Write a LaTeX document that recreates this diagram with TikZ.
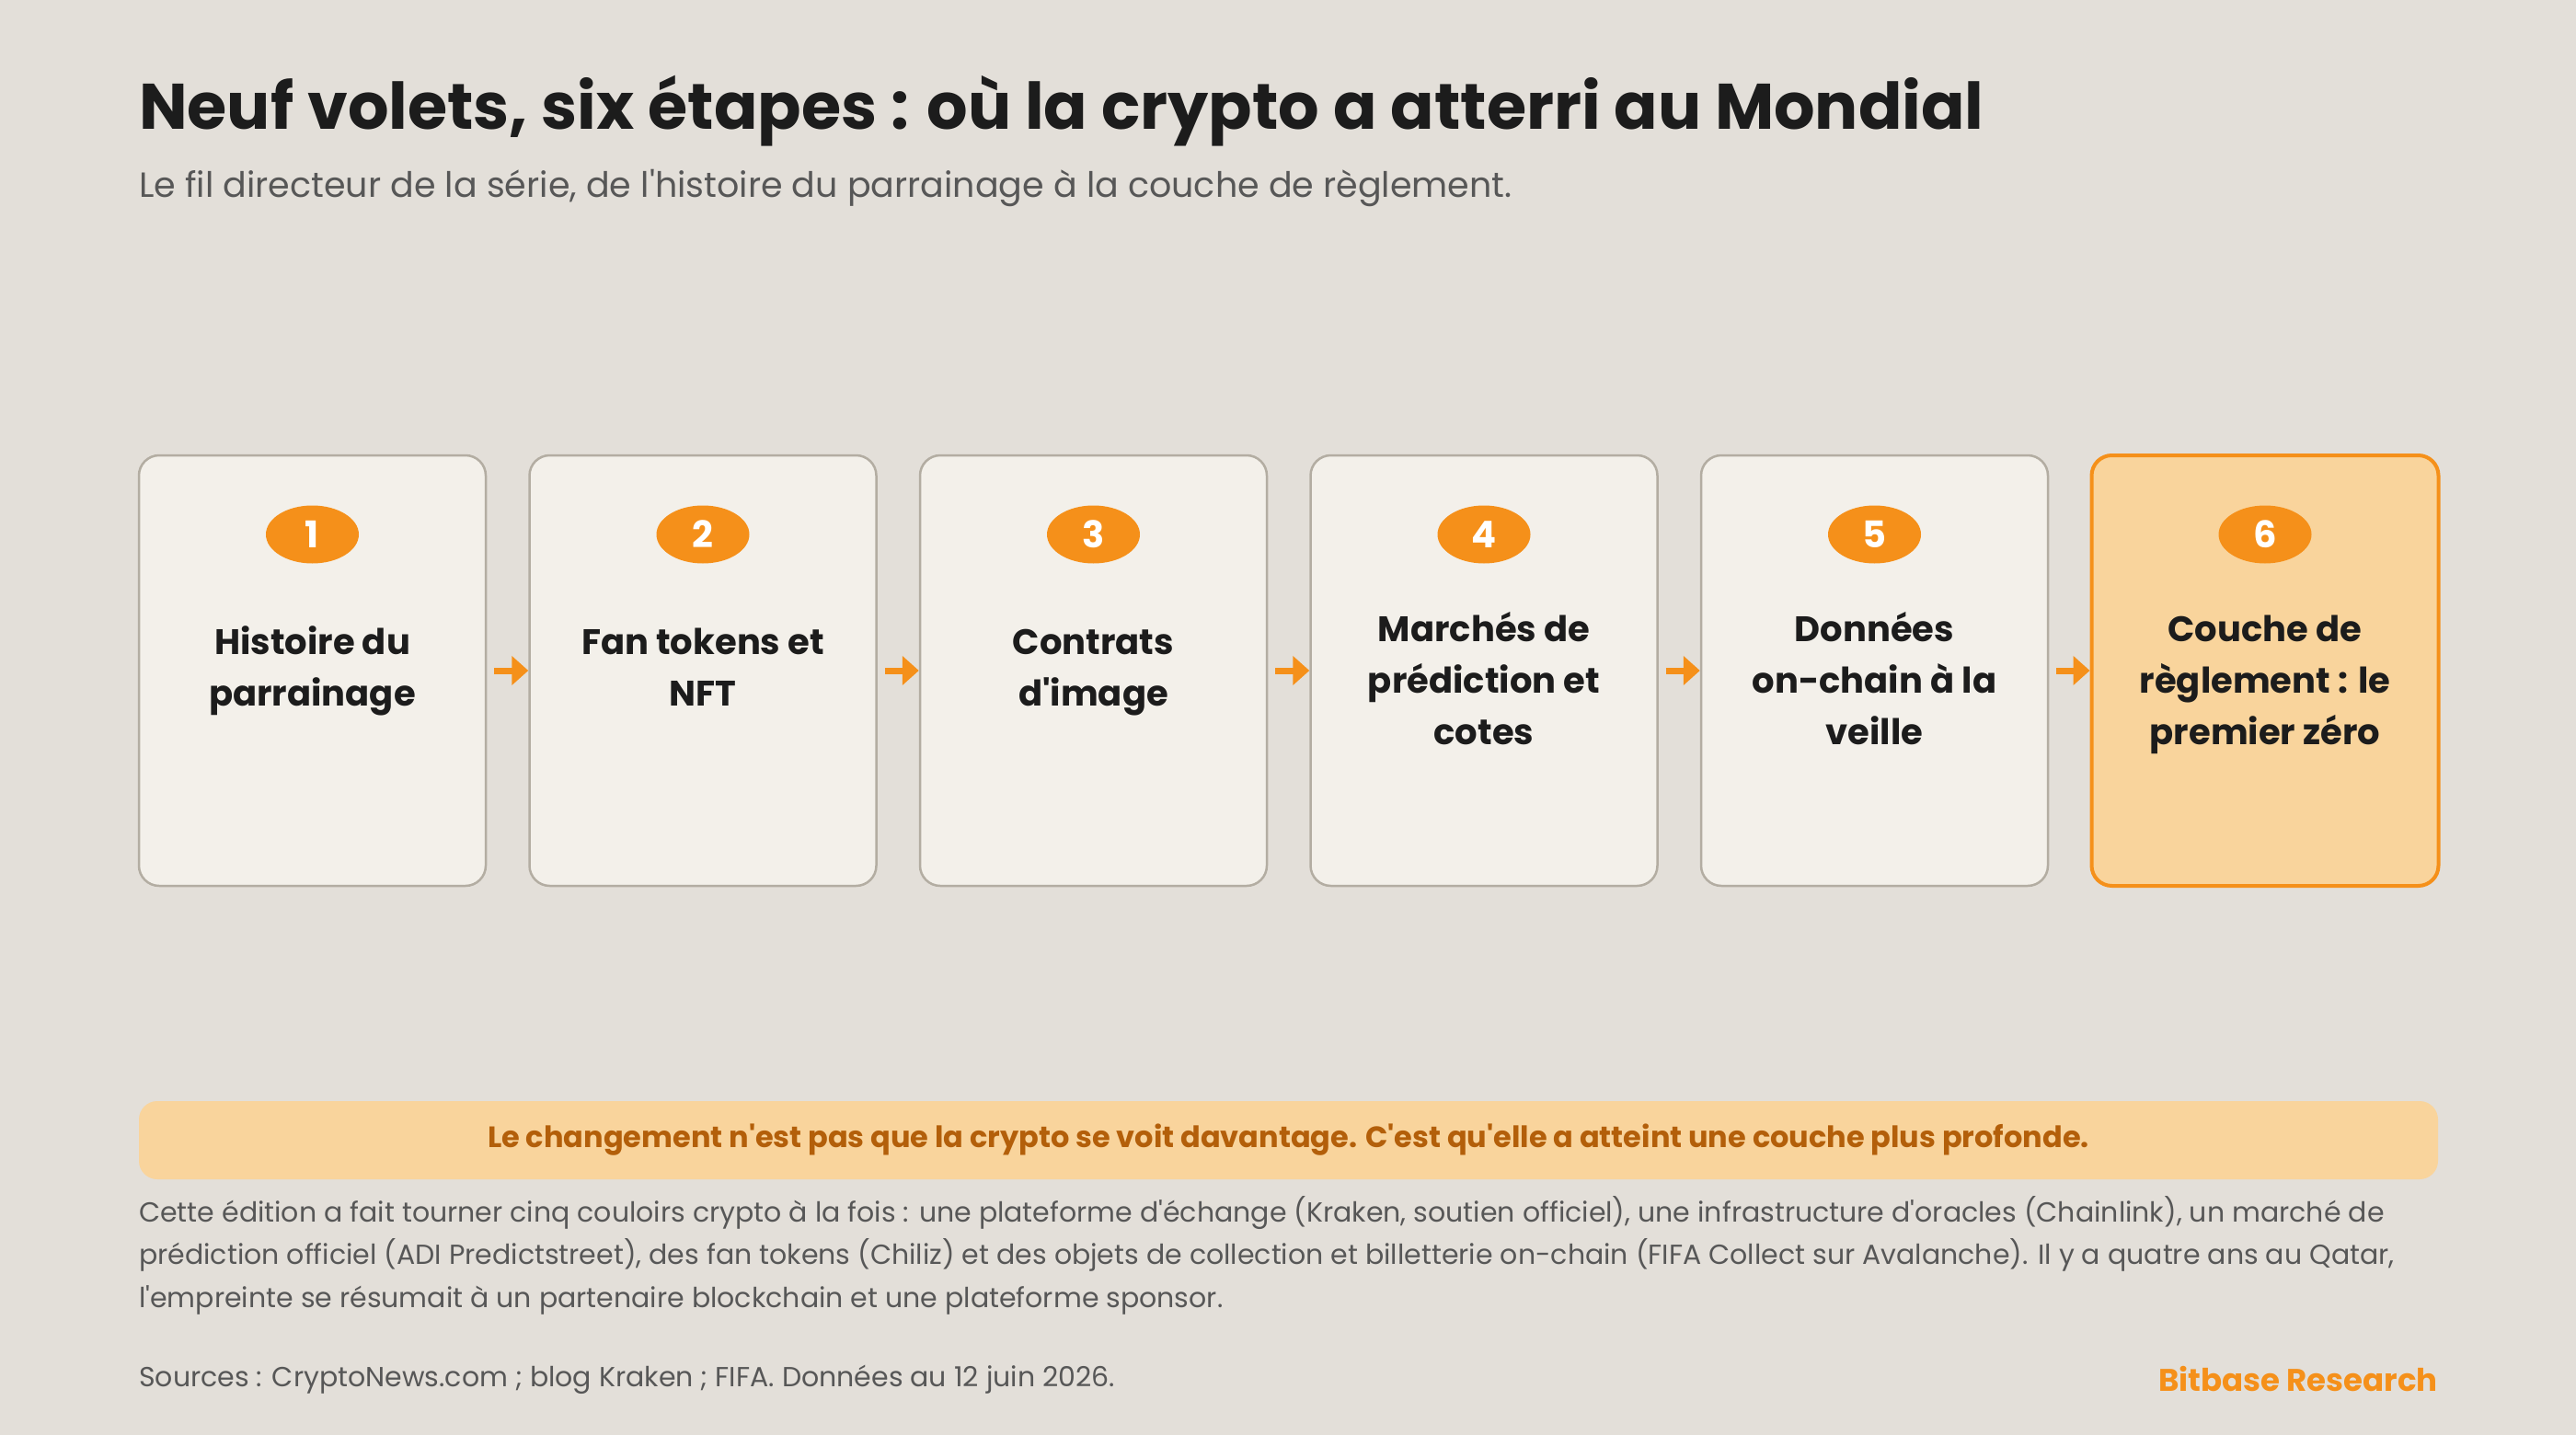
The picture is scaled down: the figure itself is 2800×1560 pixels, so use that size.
\documentclass[tikz,border=0pt]{standalone}
\usepackage{fontspec}
\usetikzlibrary{shapes.geometric,arrows.meta}
\newfontfamily\pop{Poppins}
\definecolor{bgc}{HTML}{E3DFD9}
\definecolor{cardc}{HTML}{F3F0EA}
\definecolor{cardline}{HTML}{B3ADA2}
\definecolor{orangec}{HTML}{F5901A}
\definecolor{peach}{HTML}{F9D49C}
\definecolor{bannertext}{HTML}{B35F0A}
\definecolor{darkc}{HTML}{1C1C1C}
\definecolor{grayc}{HTML}{575757}
\tikzset{
  card/.style={draw=cardline, fill=cardc, line width=2.5pt, rounded corners=22pt,
    minimum width=377pt, minimum height=468pt, inner sep=0pt},
  cardhi/.style={card, draw=orangec, fill=peach, line width=4pt},
  badge/.style={ellipse, fill=orangec, minimum width=101pt, minimum height=63pt, inner sep=0pt,
    text=white, font=\pop\bfseries\fontsize{40}{40}\selectfont},
  ctext/.style={anchor=base, inner sep=0pt, text=darkc, font=\pop\bfseries\fontsize{38.5}{38.5}\selectfont},
  flow/.style={draw=orangec, line width=7pt, -{Triangle[length=18pt,width=31pt]}, shorten <=8pt},
  body/.style={anchor=base west, inner sep=0pt, text=grayc, font=\pop\fontsize{30}{30}\selectfont},
}
\begin{document}
\begin{tikzpicture}[x=1pt,y=-1pt]
\fill[bgc] (0,0) rectangle (2800,1560);
\useasboundingbox (0,0) rectangle (2800,1560);
% title
\node[anchor=base west, inner sep=0pt, text=darkc, font=\pop\bfseries\fontsize{70}{70}\selectfont] (title) at (151,140) {Neuf volets, six étapes : où la crypto a atterri au Mondial};
\node[anchor=base west, inner sep=0pt, text=grayc, font=\pop\fontsize{38}{38}\selectfont] (subtitle) at (151,214) {Le fil directeur de la série, de l'histoire du parrainage à la couche de règlement.};
% cards
\node[card] (c1) at (339.5,729) {};
\node[card] (c2) at (764,729) {};
\node[card] (c3) at (1188.5,729) {};
\node[card] (c4) at (1613,729) {};
\node[card] (c5) at (2037.5,729) {};
\node[cardhi] (c6) at (2462,729) {};
% badges
\node[badge] (b1) at (339.5,581) {1};
\node[badge] (b2) at (764,581) {2};
\node[badge] (b3) at (1188.5,581) {3};
\node[badge] (b4) at (1613,581) {4};
\node[badge] (b5) at (2037.5,581) {5};
\node[badge] (b6) at (2462,581) {6};
% card texts
\node[ctext] (t1a) at (339.5,711) {Histoire du};
\node[ctext] (t1b) at (339.5,767) {parrainage};
\node[ctext] (t2a) at (764,711) {Fan tokens et};
\node[ctext] (t2b) at (764,767) {NFT};
\node[ctext] (t3a) at (1188.5,711) {Contrats};
\node[ctext] (t3b) at (1188.5,767) {d'image};
\node[ctext] (t4a) at (1613,697) {Marchés de};
\node[ctext] (t4b) at (1613,753) {prédiction et};
\node[ctext] (t4c) at (1613,809) {cotes};
\node[ctext] (t5a) at (2037.5,697) {Données};
\node[ctext] (t5b) at (2037.5,753) {on-chain à la};
\node[ctext] (t5c) at (2037.5,809) {veille};
\node[ctext] (t6a) at (2462,697) {Couche de};
\node[ctext] (t6b) at (2462,753) {règlement : le};
\node[ctext] (t6c) at (2462,809) {premier zéro};
% arrows
\draw[flow] (c1.east) -- (c2.west);
\draw[flow] (c2.east) -- (c3.west);
\draw[flow] (c3.east) -- (c4.west);
\draw[flow] (c4.east) -- (c5.west);
\draw[flow] (c5.east) -- (c6.west);
% banner
\node[fill=peach, rounded corners=20pt, minimum width=2499pt, minimum height=85pt, inner sep=0pt] (banner) at (1400.5,1239.5) {};
\node[anchor=base, inner sep=0pt, text=bannertext, font=\pop\bfseries\fontsize{32}{32}\selectfont] (bannertxt) at (1400.5,1247) {Le changement n'est pas que la crypto se voit davantage. C'est qu'elle a atteint une couche plus profonde.};
% body
\node[body] (p1) at (151,1328) {Cette édition a fait tourner cinq couloirs crypto à la fois : une plateforme d'échange (Kraken, soutien officiel), une infrastructure d'oracles (Chainlink), un marché de};
\node[body] (p2) at (151,1374.5) {prédiction officiel (ADI Predictstreet), des fan tokens (Chiliz) et des objets de collection et billetterie on-chain (FIFA Collect sur Avalanche). Il y a quatre ans au Qatar,};
\node[body] (p3) at (151,1421) {l'empreinte se résumait à un partenaire blockchain et une plateforme sponsor.};
% footer
\node[body] (src) at (151,1507) {Sources : CryptoNews.com ; blog Kraken ; FIFA. Données au 12 juin 2026.};
\node[anchor=base east, inner sep=0pt, text=orangec, font=\pop\bfseries\fontsize{34}{34}\selectfont] (brand) at (2650,1512) {Bitbase Research};
\end{tikzpicture}
\end{document}
